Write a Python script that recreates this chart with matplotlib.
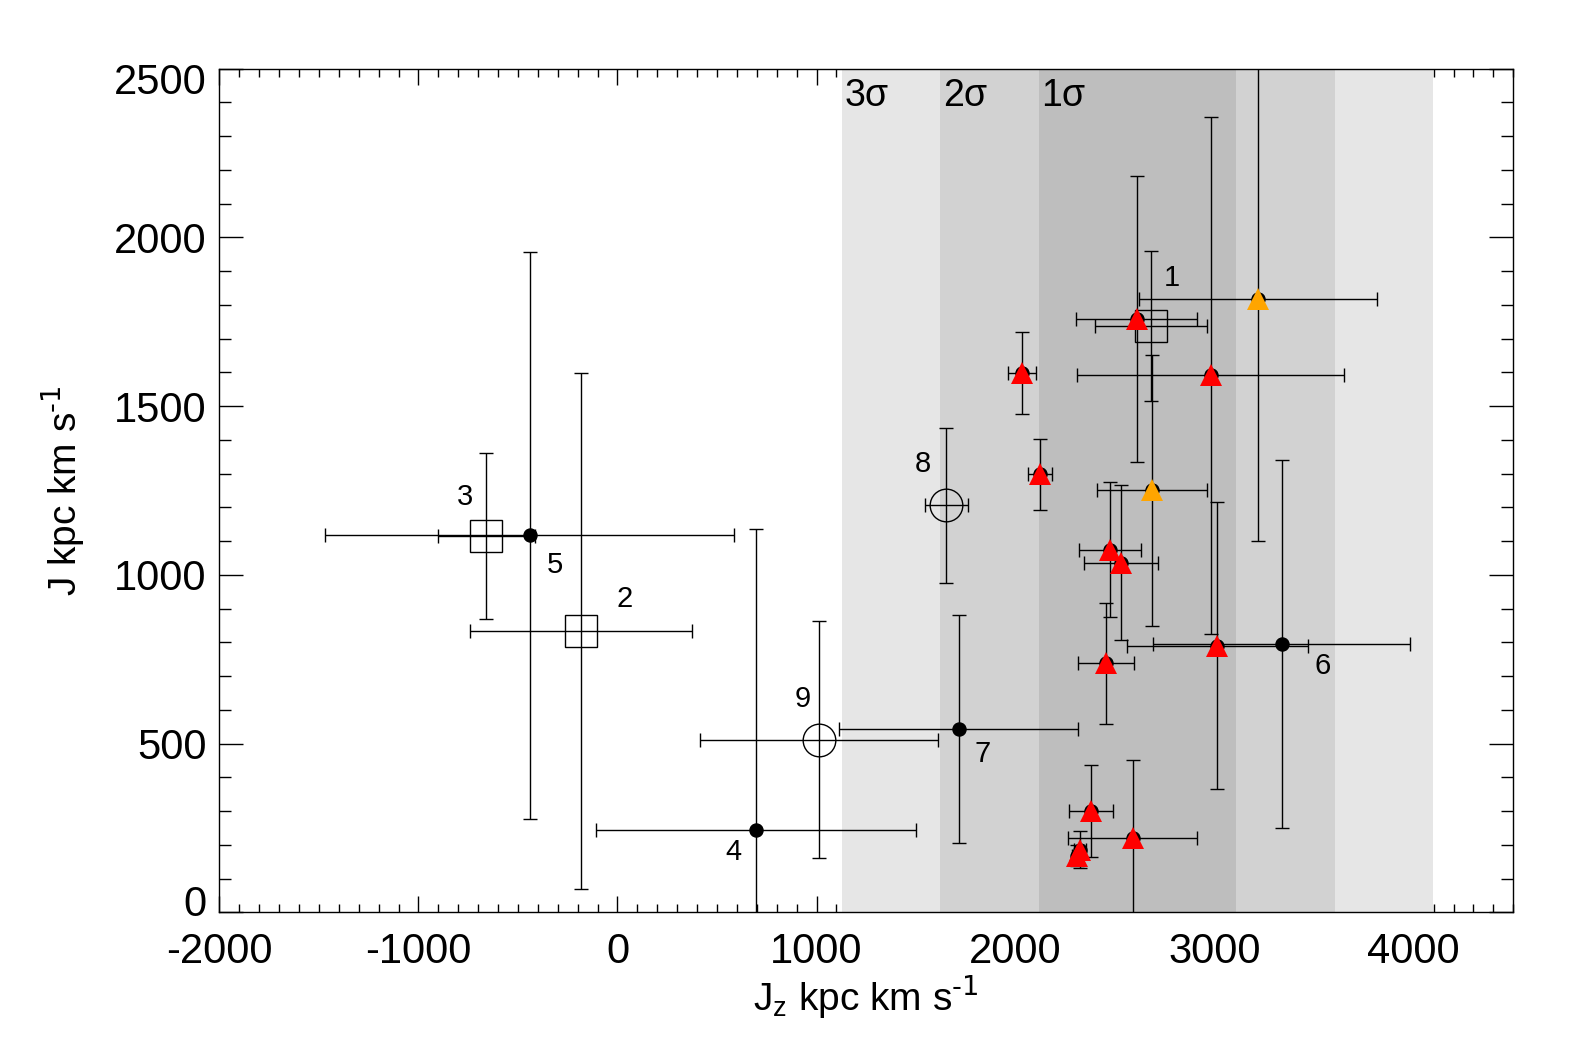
import matplotlib
matplotlib.use('Agg')
import matplotlib.pyplot as plt
from matplotlib.ticker import MultipleLocator
from matplotlib.transforms import ScaledTranslation

plt.rcParams['font.family'] = ['Liberation Sans', 'DejaVu Sans']
plt.rcParams['mathtext.default'] = 'regular'
plt.rcParams['axes.unicode_minus'] = False

# shaded sigma bands (centre and width of the distribution)
band_centre = 2612
band_sigma = 495
band_colors = ['#e6e6e6', '#d2d2d2', '#bebebe']
band_names = ['3σ', '2σ', '1σ']

# open squares (1, 2, 3)
sq_x = [2679, -185, -658]
sq_y = [1738, 834, 1115]
sq_xerr = [281, 558, 243]
sq_yerr = [222, 764, 247]

# filled dots (4, 5, 6, 7)
dot_x = [697, -441, 3336, 1715]
dot_y = [245, 1117, 795, 543]
dot_xerr = [804, 1027, 644, 600]
dot_yerr = [892, 840, 544, 339]

# open circles (8, 9)
circ_x = [1652, 1014]
circ_y = [1206, 512]
circ_xerr = [108, 597]
circ_yerr = [229, 350]

# red triangles
red_x = [2608, 2980, 2033, 2123, 2475, 2528, 2455, 3013, 2377, 2588, 2322, 2308]
red_y = [1758, 1591, 1598, 1298, 1074, 1036, 738, 790, 300, 219, 185, 168]
red_xerr = [304, 672, 70, 60, 156, 186, 140, 455, 110, 325, 30, 25]
red_yerr = [424, 767, 122, 105, 200, 229, 179, 426, 136, 231, 55, 30]

# orange triangles
orn_x = [3218, 2685]
orn_y = [1817, 1251]
orn_xerr = [597, 278]
orn_yerr = [718, 402]

# point labels
lab_text = ['1', '2', '3', '4', '5', '6', '7', '8', '9']
lab_x = [2785, 37, -766, 584, -316, 3541, 1836, 1534, 932]
lab_y = [1880, 929, 1230, 178, 1030, 730, 469, 1329, 631]

fig = plt.figure(figsize=(15.78, 10.52), dpi=100)
ax = fig.add_axes([0.139, 0.1328, 0.820, 0.8019])
ax.set_axisbelow(True)

for k, col in zip([3, 2, 1], band_colors):
    ax.axvspan(band_centre - k * band_sigma, band_centre + k * band_sigma,
               color=col, lw=0, zorder=1)
for k, name in zip([3, 2, 1], band_names):
    ax.text(band_centre - k * band_sigma + 12, 2420, name, fontsize=27,
            ha='left', va='center', zorder=5)

eb = dict(fmt='none', ecolor='black', elinewidth=1.0, capsize=5,
          capthick=1.0, zorder=3)
ax.errorbar(sq_x, sq_y, xerr=sq_xerr, yerr=sq_yerr, **eb)
ax.errorbar(dot_x, dot_y, xerr=dot_xerr, yerr=dot_yerr, **eb)
ax.errorbar(circ_x, circ_y, xerr=circ_xerr, yerr=circ_yerr, **eb)
ax.errorbar(red_x, red_y, xerr=red_xerr, yerr=red_yerr, **eb)
ax.errorbar(orn_x, orn_y, xerr=orn_xerr, yerr=orn_yerr, **eb)

ax.plot(sq_x, sq_y, 's', ms=23.5, mfc='none', mec='black', mew=1.0, zorder=4)
ax.plot(circ_x, circ_y, 'o', ms=23.5, mfc='none', mec='black', mew=1.0, zorder=4)
ax.plot(dot_x, dot_y, 'o', ms=9.4, color='black', zorder=4)
ax.plot(red_x, red_y, 'o', ms=9.4, color='black', zorder=4)
ax.plot(orn_x, orn_y, 'o', ms=9.4, color='black', zorder=4)
ax.plot(red_x, red_y, '^', ms=15.8, color='#ff0000', mew=0, zorder=4)
ax.plot(orn_x, orn_y, '^', ms=15.8, color='#ffa500', mew=0, zorder=4)

for t, x, y in zip(lab_text, lab_x, lab_y):
    ax.text(x, y, t, fontsize=21, ha='center', va='center', zorder=5)

ax.set_xlim(-2000, 4500)
ax.set_ylim(0, 2500)
ax.xaxis.set_major_locator(MultipleLocator(1000))
ax.xaxis.set_minor_locator(MultipleLocator(100))
ax.yaxis.set_major_locator(MultipleLocator(500))
ax.yaxis.set_minor_locator(MultipleLocator(100))
ax.tick_params(axis='both', which='both', direction='in', top=True, right=True,
               width=1.0, labelsize=30)
ax.tick_params(axis='x', which='major', length=11.5, pad=14)
ax.tick_params(axis='x', which='minor', length=5.8)
ax.tick_params(axis='y', which='major', length=17, pad=9)
ax.tick_params(axis='y', which='minor', length=8.6)
for s in ax.spines.values():
    s.set_linewidth(1.0)

# end labels nudged inside the axis range, as in the original
fig.canvas.draw()
for tick in ax.yaxis.get_major_ticks():
    if abs(tick.get_loc()) < 1e-6:
        tick.label1.set_transform(tick.label1.get_transform()
                                  + ScaledTranslation(0, 0.12, fig.dpi_scale_trans))
    elif abs(tick.get_loc() - 2500) < 1e-6:
        tick.label1.set_transform(tick.label1.get_transform()
                                  + ScaledTranslation(0, -0.10, fig.dpi_scale_trans))

ax.set_xlabel('J$_z$ kpc km s$^{\\text{-1}}$', fontsize=28)
ax.set_ylabel('J kpc km s$^{\\text{-1}}$', fontsize=28)
ax.xaxis.set_label_coords(0.5, -0.072)
ax.yaxis.set_label_coords(-0.103, 0.5)

plt.savefig('out.png', dpi=100)
